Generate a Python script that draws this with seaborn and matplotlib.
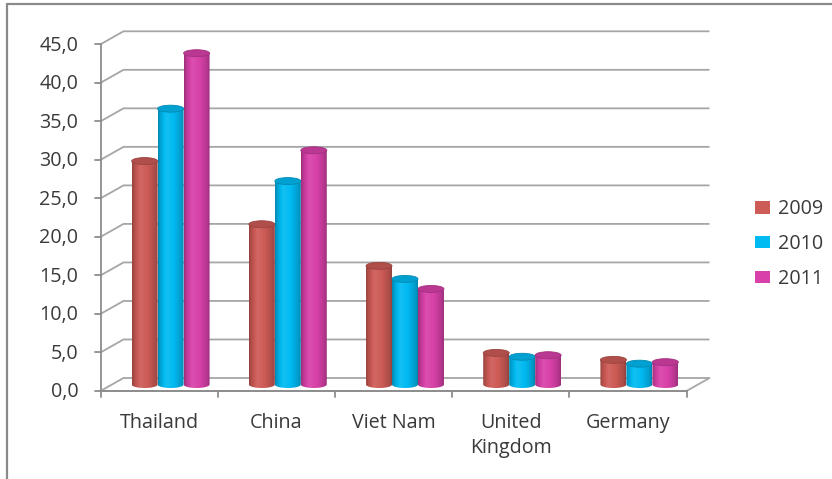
import numpy as np
import pandas as pd
import matplotlib
matplotlib.use("Agg")
import matplotlib.pyplot as plt
import seaborn as sns
from matplotlib.patches import Ellipse, Polygon, Patch
from matplotlib.lines import Line2D
from matplotlib.colors import to_rgb

# ---- data ----
countries = ["Thailand", "China", "Viet Nam", "United\nKingdom", "Germany"]
years = ["2009", "2010", "2011"]
v2009 = [29.0, 20.8, 15.4, 4.1, 3.2]
v2010 = [35.8, 26.4, 13.7, 3.6, 2.7]
v2011 = [43.0, 30.4, 12.4, 3.8, 2.9]
y_ticks = [0, 5, 10, 15, 20, 25, 30, 35, 40, 45]
y_tick_labels = ["0,0", "5,0", "10,0", "15,0", "20,0", "25,0", "30,0", "35,0", "40,0", "45,0"]
colors = ["#CD5B56", "#00BAF2", "#D841A9"]

df = pd.DataFrame({
    "country": countries * 3,
    "year": np.repeat(years, len(countries)),
    "value": v2009 + v2010 + v2011,
})

sns.set_style("white")
plt.rcParams["font.family"] = ["Open Sans", "DejaVu Sans"]
TEXT = "#3a3a3a"
GRID = "#a6a6a6"
AXIS = "#8c8c8c"
FS = 14.2

W, H = 832, 479
fig = plt.figure(figsize=(W / 100, H / 100), dpi=100)
fig.patch.set_facecolor("white")
ax = fig.add_axes([0, 0, 1, 1])

sns.barplot(data=df, x="country", y="value", hue="year", order=countries,
            hue_order=years, palette=colors, width=0.665, saturation=1,
            legend=False, ax=ax)

# map data units onto the canvas (bar plane sits halfway into the depth)
x0_px, x1_px = 112.0, 698.0
y0_px, y45_px = 384.5, 37.8
cat_px = (x1_px - x0_px) / len(countries)
val_px = (y0_px - y45_px) / 45.0
xlim = (-0.5 - x0_px / cat_px, -0.5 + (W - x0_px) / cat_px)
ylim = (-(H - y0_px) / val_px, y0_px / val_px)

dx = 11.5 / cat_px   # half depth, horizontal
dy = 6.5 / val_px    # half depth, vertical
left, right = -0.5, len(countries) - 0.5

# back wall gridlines with the left-wall diagonals
for v in y_ticks:
    ax.plot([left - dx, left + dx, right + dx], [v - dy, v + dy, v + dy],
            color=GRID, lw=1.3, zorder=0.5, solid_capstyle="butt")
# floor
ax.plot([left - dx, right - dx, right + dx], [-dy, -dy, dy],
        color=GRID, lw=1.3, zorder=0.6)
# front value axis
ax.plot([left - dx, left - dx], [-dy, 45 - dy], color=AXIS, lw=1.3, zorder=0.7)
tick_len = 6 / cat_px
for v, lab in zip(y_ticks, y_tick_labels):
    ax.plot([left - dx - tick_len, left - dx], [v - dy, v - dy],
            color=AXIS, lw=1.3, zorder=0.7)
    ax.text(left - dx - 22 / cat_px, v - dy - 1.5 / val_px, lab, ha="right",
            va="center", fontsize=FS, color=TEXT)
# front category axis ticks
for b in np.arange(left, right + 0.01, 1.0):
    ax.plot([b - dx, b - dx], [-dy, -dy - 6 / val_px], color=AXIS, lw=1.3,
            zorder=0.7)
ax.plot([left - dx, right - dx], [-dy, -dy], color=AXIS, lw=1.3, zorder=0.7)
for i, name in enumerate(countries):
    ax.text(i - dx, -dy - 22 / val_px, name, ha="center", va="top",
            fontsize=FS, color=TEXT, linespacing=1.3)


def shade(rgb, f):
    rgb = np.asarray(rgb)
    if f >= 1:
        return rgb + (1 - rgb) * (f - 1)
    return rgb * f


# turn each flat bar into a shaded cylinder
eh = 7.0 / val_px
tt = np.linspace(0, 1, 64)
prof = np.interp(tt, [0, 0.08, 0.32, 0.6, 0.9, 1.0],
                 [0.72, 0.86, 1.08, 1.0, 0.84, 0.72])
for k, p in enumerate(list(ax.patches)):
    x, w, h = p.get_x(), p.get_width(), p.get_height()
    base = to_rgb(p.get_facecolor())
    p.set_visible(False)
    z = 2 + k * 0.01 + x * 0.1
    img = np.array([[shade(base, f) for f in prof]])
    img = np.clip(img, 0, 1)
    th = np.linspace(np.pi, 2 * np.pi, 40)
    bottom = np.column_stack([x + w / 2 + w / 2 * np.cos(th), eh / 2 * np.sin(th)])
    outline = np.vstack([[x, h], bottom, [x + w, h]])
    clip = Polygon(outline, closed=True, transform=ax.transData)
    im = ax.imshow(img, extent=[x, x + w, -eh / 2, h], aspect="auto",
                   interpolation="bilinear", zorder=z)
    im.set_clip_path(clip)
    cap = Ellipse((x + w / 2, h), w, eh, facecolor=shade(base, 0.86),
                  edgecolor=shade(base, 0.75), lw=0.6, zorder=z + 0.005)
    ax.add_patch(cap)

ax.set_xlim(*xlim)
ax.set_ylim(*ylim)
ax.axis("off")

handles = [Patch(facecolor=c, edgecolor="none") for c in colors]
ax.legend(handles, years, loc="center left",
          bbox_to_anchor=(755 / W, 1 - 244 / H), bbox_transform=fig.transFigure,
          frameon=False, fontsize=FS, handlelength=0.75, handleheight=0.6,
          handletextpad=0.4, labelspacing=0.75, borderpad=0, borderaxespad=0,
          labelcolor=TEXT)

# outer frame of the chart area
fig.add_artist(Line2D([7 / W, 1], [1 - 4 / H, 1 - 4 / H], transform=fig.transFigure,
                      color="#8a8a8a", lw=1.6))
fig.add_artist(Line2D([7 / W, 7 / W], [0, 1 - 4 / H], transform=fig.transFigure,
                      color="#8a8a8a", lw=1.6))

fig.savefig("out.png", dpi=100, facecolor="white")
